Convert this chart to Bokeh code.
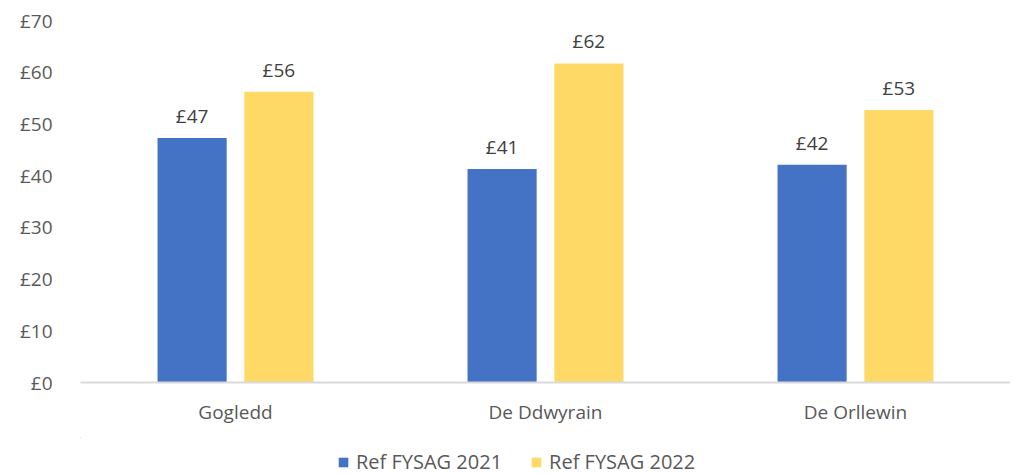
from bokeh.plotting import figure
from bokeh.layouts import column
from bokeh.models import ColumnDataSource, FixedTicker, Legend, LegendItem, LabelSet, NumeralTickFormatter, Range1d
from bokeh.core.properties import value
from bokeh.transform import dodge
from bokeh.embed import file_html
from bokeh.resources import INLINE

categories = ["Gogledd", "De Ddwyrain", "De Orllewin"]
series_names = ["Ref FYSAG 2021", "Ref FYSAG 2022"]
values_2021 = [47.3, 41.3, 42.1]
values_2022 = [56.2, 61.7, 52.7]
y_ticks = [0, 10, 20, 30, 40, 50, 60, 70]
colors = ["#4472C4", "#FFD966"]

FONT = "Open Sans"
TXT = "#595959"
FS = "19px"

xs = list(range(len(categories)))
src = ColumnDataSource(dict(
    x=xs,
    v1=values_2021,
    v2=values_2022,
    l1=["£%d" % round(v) for v in values_2021],
    l2=["£%d" % round(v) for v in values_2022],
))

p = figure(width=1010, height=437, output_backend="svg", toolbar_location=None,
           x_range=(-0.5, 2.5), y_range=(0, 70),
           min_border_left=80, min_border_right=0, min_border_top=20, min_border_bottom=55)
p.outline_line_color = None
p.xgrid.grid_line_color = None
p.ygrid.grid_line_color = None

bw = 0.223
off = 0.14
p.vbar(x=dodge("x", -off, range=p.x_range), top="v1", width=bw, source=src,
       fill_color=colors[0], line_color=None)
p.vbar(x=dodge("x", off, range=p.x_range), top="v2", width=bw, source=src,
       fill_color=colors[1], line_color=None)

for col, lab, o in (("v1", "l1", -off), ("v2", "l2", off)):
    ls = LabelSet(x=dodge("x", o, range=p.x_range), y=col, text=lab, source=src,
                  text_align="center", text_baseline="bottom", y_offset=9,
                  text_font=value(FONT), text_font_size=value(FS), text_color="#404040")
    p.add_layout(ls)

p.xaxis.ticker = FixedTicker(ticks=xs)
p.xaxis.major_label_overrides = {i: c for i, c in enumerate(categories)}
p.xaxis.major_tick_line_color = None
p.xaxis.minor_tick_line_color = None
p.xaxis.axis_line_color = "#D9D9D9"
p.xaxis.axis_line_width = 2
p.xaxis.major_label_standoff = 10
p.xaxis.major_label_text_font = FONT
p.xaxis.major_label_text_font_size = FS
p.xaxis.major_label_text_color = TXT

p.yaxis.ticker = FixedTicker(ticks=y_ticks)
p.yaxis.formatter = NumeralTickFormatter(format="0")
p.yaxis.major_label_overrides = {t: "£%d" % t for t in y_ticks}
p.yaxis.major_tick_line_color = None
p.yaxis.minor_tick_line_color = None
p.yaxis.axis_line_color = None
p.yaxis.major_label_standoff = 22
p.yaxis.major_label_text_font = FONT
p.yaxis.major_label_text_font_size = FS
p.yaxis.major_label_text_color = TXT

# legend strip: same bars, placed far outside the strip's visible ranges so only the legend shows
lg = figure(width=1010, height=38, output_backend="svg", toolbar_location=None,
            x_range=Range1d(100, 101), y_range=Range1d(-200, -199),
            x_axis_type=None, y_axis_type=None,
            min_border_left=0, min_border_right=0, min_border_top=0, min_border_bottom=0)
lg.outline_line_color = None
lg.xgrid.grid_line_color = None
lg.ygrid.grid_line_color = None
g1 = lg.vbar(x="x", top="v1", width=bw, source=src, fill_color=colors[0],
             line_color=None, line_alpha=0)
g2 = lg.vbar(x="x", top="v2", width=bw, source=src, fill_color=colors[1],
             line_color=None, line_alpha=0)

legend = Legend(items=[LegendItem(label=series_names[0], renderers=[g1]),
                       LegendItem(label=series_names[1], renderers=[g2])],
                orientation="horizontal", location=(257, 0),
                glyph_width=12, glyph_height=12, spacing=28, label_standoff=7,
                label_text_font=FONT, label_text_font_size="20px", label_text_color=TXT,
                border_line_color=None, background_fill_alpha=0, padding=0, margin=0)
lg.add_layout(legend)

layout = column(p, lg, spacing=0)
open("out.html", "w").write(file_html(layout, INLINE))
